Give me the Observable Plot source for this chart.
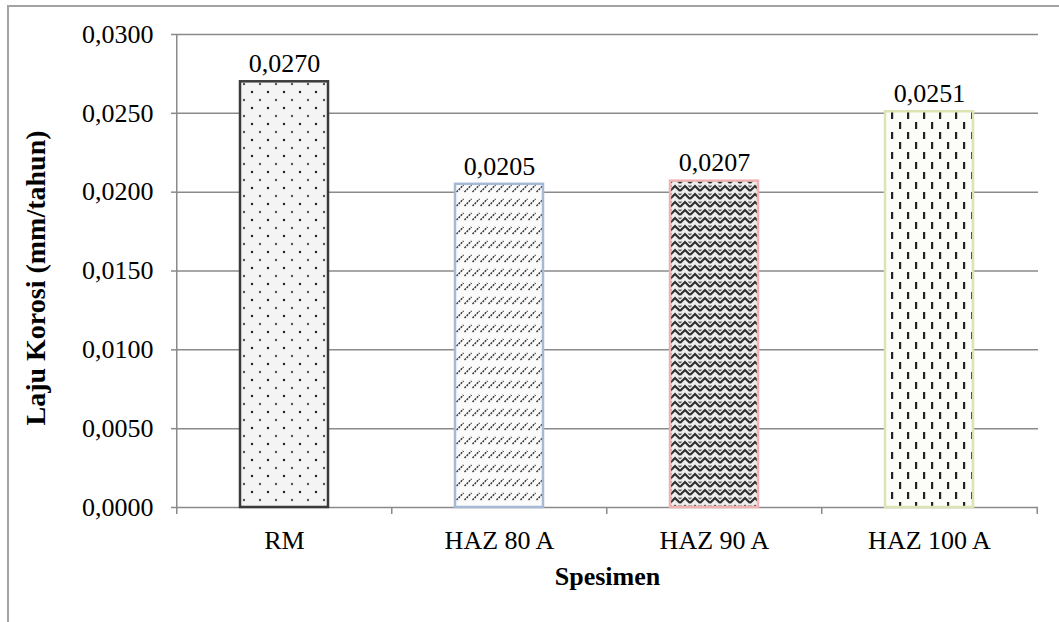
<!DOCTYPE html>
<html>
<head>
<meta charset="utf-8">
<script src="https://cdn.jsdelivr.net/npm/d3@7"></script>
<script src="https://cdn.jsdelivr.net/npm/@observablehq/plot@0.6"></script>
<style>
  html, body { margin: 0; padding: 0; background: #fff; overflow: hidden; }
  #wrap { position: relative; width: 1059px; height: 622px; }
  #frame { position: absolute; left: 7px; top: 5px; width: 1200px; height: 800px;
           border-left: 2px solid #a3a3a3; border-top: 2px solid #a3a3a3; }
  #chart { position: absolute; left: 0; top: 0; }
</style>
</head>
<body>
<div id="wrap"><div id="frame"></div><div id="chart"></div></div>
<script>
// ---- data ----
const categories = ["RM", "HAZ 80 A", "HAZ 90 A", "HAZ 100 A"];
const values = [0.0270, 0.0205, 0.0207, 0.0251];
const valueLabels = ["0,0270", "0,0205", "0,0207", "0,0251"];
const yTicks = [0, 0.005, 0.010, 0.015, 0.020, 0.025, 0.030];
const yTickLabels = ["0,0000", "0,0050", "0,0100", "0,0150", "0,0200", "0,0250", "0,0300"];
const xTitle = "Spesimen";
const yTitle = "Laju Korosi (mm/tahun)";

// ---- styles ----
const patternIds = ["pat-dots", "pat-slash", "pat-weave", "pat-vdash"];
const borderColors = ["#3a3a3a", "#a6bad6", "#f0b2b2", "#dde3b2"];
const axisGray = "#8a8a8a";
const serif = "'Liberation Serif', 'Times New Roman', serif";

const W = 1059, H = 622, mL = 176, mR = 21, mT = 34, mB = 115;
const step = (W - mL - mR) / categories.length;

const rows = categories.map((c, i) => ({
  cat: c, value: values[i], label: valueLabels[i],
  fill: `url(#${patternIds[i]})`, stroke: borderColors[i]
}));

const chart = Plot.plot({
  width: W, height: H,
  marginLeft: mL, marginRight: mR, marginTop: mT, marginBottom: mB,
  style: { background: "transparent", fontFamily: serif, color: "#000" },
  x: { domain: categories, paddingInner: 0.59, paddingOuter: 0.295, label: null },
  y: { domain: [0, 0.03], label: null },
  color: { type: "identity" },
  marks: [
    Plot.ruleY(yTicks, { stroke: axisGray, strokeWidth: 1.5 }),
    Plot.barY(rows, { x: "cat", y: "value", fill: "fill", stroke: "stroke", strokeWidth: 2.5 }),
    Plot.ruleX([categories[0]], { dx: -step / 2, stroke: axisGray, strokeWidth: 1.5 }),
    Plot.ruleX(categories, { x: d => d, dx: -step / 2, y1: 0, y2: 0, insetBottom: -7, stroke: axisGray, strokeWidth: 1.5 }),
    Plot.ruleX([categories[categories.length - 1]], { dx: step / 2, y1: 0, y2: 0, insetBottom: -7, stroke: axisGray, strokeWidth: 1.5 }),
    Plot.axisY({ ticks: yTicks, tickFormat: (d) => yTickLabels[yTicks.indexOf(d)], tickSize: 5, tickPadding: 18,
                 stroke: axisGray, strokeWidth: 1.5, fontSize: 26, fontFamily: serif, fill: "#000", label: null }),
    Plot.text([yTitle], { frameAnchor: "left", textAnchor: "middle", lineAnchor: "middle", rotate: -90, dx: -140, dy: 7,
                          fontSize: 28, fontWeight: "bold", fontFamily: serif, fill: "#000" }),
    Plot.axisX({ tickSize: 0, tickPadding: 23, fontSize: 26, fontFamily: serif, fill: "#000", label: null }),
    Plot.axisX({ ticks: [], label: xTitle, labelAnchor: "center", labelArrow: "none", labelOffset: 77,
                 fontSize: 26, fontWeight: "bold", fontFamily: serif, fill: "#000" }),
    Plot.text(rows, { x: "cat", y: "value", text: "label", dy: -18, fontSize: 26, fontFamily: serif, fill: "#000" })
  ]
});

const svg = chart.tagName.toLowerCase() === "svg" ? chart : chart.querySelector("svg");
const defs = d3.select(svg).insert("defs", ":first-child");

// dots
let p = defs.append("pattern").attr("id", "pat-dots").attr("patternUnits", "userSpaceOnUse").attr("width", 16).attr("height", 16);
p.append("rect").attr("width", 16).attr("height", 16).attr("fill", "#f4f4f4");
p.append("circle").attr("cx", 4).attr("cy", 4).attr("r", 1.2).attr("fill", "#555");
p.append("circle").attr("cx", 12).attr("cy", 12).attr("r", 1.2).attr("fill", "#222");

// slashes
p = defs.append("pattern").attr("id", "pat-slash").attr("patternUnits", "userSpaceOnUse").attr("width", 8).attr("height", 14);
p.append("rect").attr("width", 8).attr("height", 14).attr("fill", "#fbfbfb");
p.append("line").attr("x1", 0.5).attr("y1", 10).attr("x2", 7.5).attr("y2", 3).attr("stroke", "#333").attr("stroke-width", 1.5).attr("stroke-dasharray", "2 1");

// weave
p = defs.append("pattern").attr("id", "pat-weave").attr("patternUnits", "userSpaceOnUse").attr("width", 10).attr("height", 8);
p.append("rect").attr("width", 10).attr("height", 8).attr("fill", "#eeeeee");
p.append("path").attr("d", "M0,7 L5,2 L10,7").attr("fill", "none").attr("stroke", "#2f2f2f").attr("stroke-width", 2.2);
p.append("path").attr("d", "M0,3 L1.5,1.5 M8.5,1.5 L10,3").attr("fill", "none").attr("stroke", "#666").attr("stroke-width", 1.3);

// vertical dashes
p = defs.append("pattern").attr("id", "pat-vdash").attr("patternUnits", "userSpaceOnUse").attr("width", 16).attr("height", 20);
p.append("rect").attr("width", 16).attr("height", 20).attr("fill", "#fcfcf8");
p.append("rect").attr("x", 3).attr("y", 2).attr("width", 2.2).attr("height", 7).attr("fill", "#222");
p.append("rect").attr("x", 11).attr("y", 12).attr("width", 2.2).attr("height", 7).attr("fill", "#222");

document.getElementById("chart").appendChild(chart);
</script>
</body>
</html>
